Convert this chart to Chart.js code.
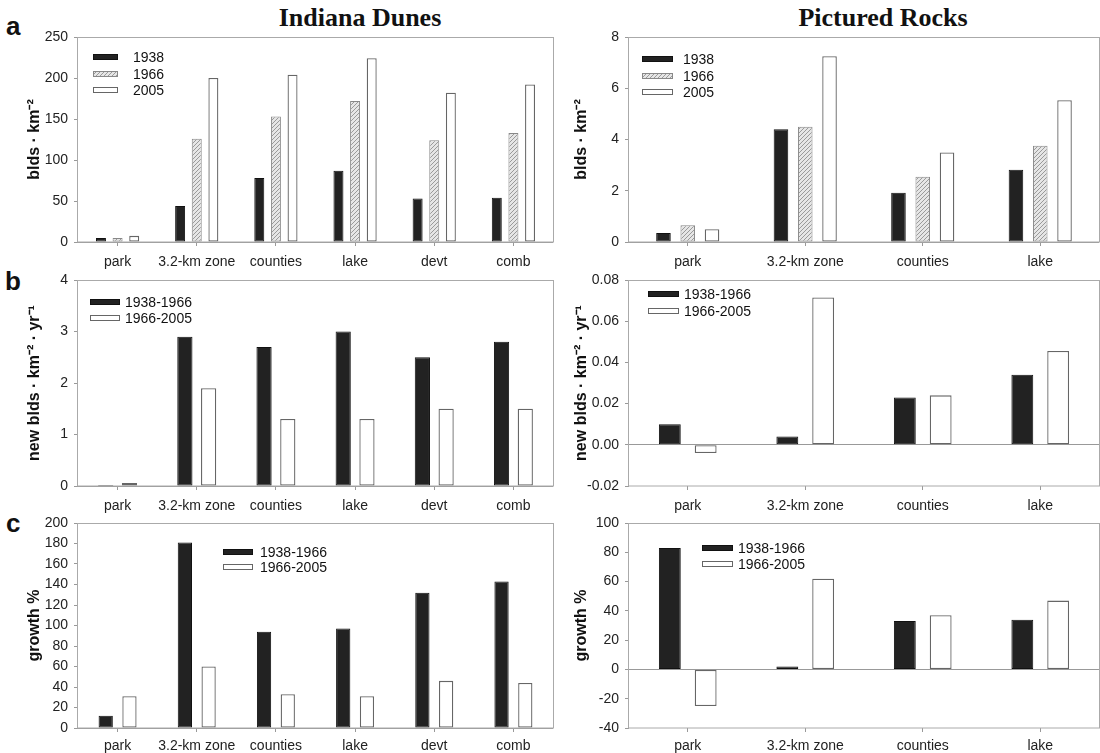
<!DOCTYPE html>
<html>
<head>
<meta charset="utf-8">
<script src="https://cdn.jsdelivr.net/npm/chart.js@4.4.0/dist/chart.umd.min.js"></script>
<style>
    body { margin: 0; width: 1100px; height: 753px; overflow: hidden; position: relative; background: #fff; }
    canvas { position: absolute; }
    .title { position: absolute; width: 240px; text-align: center; font: bold 26px/26px "Liberation Serif", "Times New Roman", serif; color: #111; }
    .letter { position: absolute; font: bold 26px/26px "Liberation Sans", Arial, sans-serif; color: #111; }
</style>
</head>
<body>
<div class="title" style="left:240px; top:5px;">Indiana Dunes</div>
<div class="title" style="left:763px; top:5px;">Pictured Rocks</div>
<div class="letter" style="left:6px; top:13px;">a</div>
<div class="letter" style="left:5px; top:268px;">b</div>
<div class="letter" style="left:6px; top:510px;">c</div>

<script>
// Catégories et séries
const idCats = ['park', '3.2-km zone', 'counties', 'lake', 'devt', 'comb'];
const prCats = ['park', '3.2-km zone', 'counties', 'lake'];
const years = ['1938', '1966', '2005'];
const periods = ['1938-1966', '1966-2005'];

// a : densité de bâtiments
const idDensity1938 = [5, 44, 78, 87, 53, 54];
const idDensity1966 = [5, 126, 153, 172, 124, 133];
const idDensity2005 = [7.5, 200, 204, 224, 182, 192];
const prDensity1938 = [0.35, 4.4, 1.92, 2.82];
const prDensity1966 = [0.65, 4.5, 2.55, 3.76];
const prDensity2005 = [0.5, 7.25, 3.49, 5.53];

// b : nouveaux bâtiments par an
const idRate1 = [0.02, 2.9, 2.7, 3.0, 2.5, 2.8];
const idRate2 = [0.06, 1.9, 1.3, 1.3, 1.5, 1.5];
const prRate1 = [0.01, 0.004, 0.023, 0.034];
const prRate2 = [-0.004, 0.0715, 0.024, 0.0455];

// c : croissance %
const idGrowth1 = [12, 181, 94, 97, 132, 143];
const idGrowth2 = [31, 60, 33, 31, 46, 44];
const prGrowth1 = [83, 2, 33, 34];
const prGrowth2 = [-25, 62, 37, 47];

// Graduations
const idDensityTicks = [0, 50, 100, 150, 200, 250];
const prDensityTicks = [0, 2, 4, 6, 8];
const idRateTicks = [0, 1, 2, 3, 4];
const prRateTicks = [-0.02, 0, 0.02, 0.04, 0.06, 0.08];
const idGrowthTicks = [0, 20, 40, 60, 80, 100, 120, 140, 160, 180, 200];
const prGrowthTicks = [-40, -20, 0, 20, 40, 60, 80, 100];

const SANS = '"Liberation Sans", Arial, sans-serif';

function hatchPattern() {
    const c = document.createElement('canvas');
    c.width = 4; c.height = 4;
    const g = c.getContext('2d');
    g.fillStyle = '#e6e6e6';
    g.fillRect(0, 0, 4, 4);
    g.strokeStyle = '#9a9a9a';
    g.lineWidth = 1;
    g.beginPath();
    g.moveTo(0, 4); g.lineTo(4, 0);
    g.moveTo(-1, 1); g.lineTo(1, -1);
    g.moveTo(3, 5); g.lineTo(5, 3);
    g.stroke();
    return g.createPattern(c, 'repeat');
}
const HATCH = hatchPattern();

const STYLE_BLACK = { backgroundColor: '#222', borderColor: '#111', borderWidth: 1 };
const STYLE_HATCH = { backgroundColor: HATCH, borderColor: '#888', borderWidth: 1 };
const STYLE_WHITE = { backgroundColor: '#fff', borderColor: '#666', borderWidth: 1.3 };

// Cadre gris autour de la zone de tracé
const frame = {
    id: 'frame',
    beforeDatasetsDraw(chart) {
        const { ctx, chartArea: a } = chart;
        ctx.save();
        ctx.strokeStyle = '#aaa';
        ctx.lineWidth = 1;
        ctx.strokeRect(Math.round(a.left) - 0.5, Math.round(a.top) + 0.5,
            Math.round(a.width) + 1, Math.round(a.height) - 0.5);
        ctx.restore();
    }
};

// Légende placée librement dans la zone de tracé
const boxLegend = {
    id: 'boxLegend',
    afterDatasetsDraw(chart, args, o) {
        const ctx = chart.ctx;
        const ox = chart.canvas.offsetLeft;
        const oy = chart.canvas.offsetTop;
        ctx.save();
        ctx.font = '14px ' + SANS;
        ctx.textBaseline = 'middle';
        chart.data.datasets.forEach((ds, i) => {
            const x = o.x - ox;
            const y = Math.round(o.rows[i] - oy);
            ctx.fillStyle = ds.backgroundColor;
            ctx.fillRect(x, y - 3, o.w, 6);
            ctx.strokeStyle = ds.borderColor;
            ctx.lineWidth = 1;
            ctx.strokeRect(x + 0.5, y - 2.5, o.w - 1, 5);
            ctx.fillStyle = '#111';
            ctx.fillText(ds.label, o.tx - ox, y + 1);
        });
        ctx.restore();
    }
};

const LEFT = { left: 0, width: 556, padL: 21, axisW: 57, padR: 3 };
const RIGHT = { left: 556, width: 544, padL: 12, axisW: 61, padR: 1 };
const ROWS = {
    a: { top: 0, height: 270, padTop: 37, axisH: 28, labelPad: 8 },
    b: { top: 262, height: 252, padTop: 18, axisH: 28, labelPad: 8 },
    c: { top: 505, height: 248, padTop: 18, axisH: 25, labelPad: 6 }
};

function renderBarChart(col, row, labels, datasets, ticks, yTitle, legend, pct, fmt) {
    const canvas = document.createElement('canvas');
    canvas.width = col.width;
    canvas.height = row.height;
    canvas.style.left = col.left + 'px';
    canvas.style.top = row.top + 'px';
    document.body.appendChild(canvas);

    return new Chart(canvas, {
        type: 'bar',
        data: {
            labels: labels,
            datasets: datasets.map(d => Object.assign({
                label: d.label,
                data: d.data,
                borderSkipped: false,
                categoryPercentage: pct[0],
                barPercentage: pct[1]
            }, d.style))
        },
        options: {
            responsive: false,
            animation: false,
            events: [],
            layout: { padding: { left: col.padL, right: col.padR, top: row.padTop, bottom: 0 } },
            plugins: {
                legend: { display: false },
                tooltip: { enabled: false },
                boxLegend: legend
            },
            scales: {
                x: {
                    afterFit: s => { s.height = row.axisH; },
                    border: { display: false },
                    grid: { offset: false, drawOnChartArea: false, tickLength: 4, tickColor: '#999' },
                    ticks: { color: '#222', padding: row.labelPad, maxRotation: 0, autoSkip: false, font: { family: SANS, size: 14 } }
                },
                y: {
                    min: ticks[0],
                    max: ticks[ticks.length - 1],
                    afterFit: s => { s.width = col.axisW; },
                    afterBuildTicks: s => { s.ticks = ticks.map(v => ({ value: v })); },
                    border: { display: false },
                    grid: {
                        drawOnChartArea: true,
                        tickLength: 4,
                        tickColor: '#999',
                        color: c => (c.tick && Math.abs(c.tick.value) < 1e-9 ? '#999' : 'rgba(0,0,0,0)')
                    },
                    ticks: {
                        color: '#222',
                        padding: 6,
                        font: { family: SANS, size: 14 },
                        callback: v => (fmt ? fmt(v) : v)
                    },
                    title: {
                        display: true,
                        text: yTitle,
                        color: '#111',
                        padding: { top: 4, bottom: 4 },
                        font: { family: SANS, size: 16, weight: 'bold' }
                    }
                }
            }
        },
        plugins: [frame, boxLegend]
    });
}

const densityTitle = 'blds · km⁻²';
const rateTitle = 'new blds · km⁻² · yr⁻¹';
const growthTitle = 'growth %';

// Rangée a
renderBarChart(LEFT, ROWS.a, idCats, [
    { label: years[0], data: idDensity1938, style: STYLE_BLACK },
    { label: years[1], data: idDensity1966, style: STYLE_HATCH },
    { label: years[2], data: idDensity2005, style: STYLE_WHITE }
], idDensityTicks, densityTitle, { x: 93, w: 25, tx: 133, rows: [57, 73.5, 90] }, [0.63, 0.6]);

renderBarChart(RIGHT, ROWS.a, prCats, [
    { label: years[0], data: prDensity1938, style: STYLE_BLACK },
    { label: years[1], data: prDensity1966, style: STYLE_HATCH },
    { label: years[2], data: prDensity2005, style: STYLE_WHITE }
], prDensityTicks, densityTitle, { x: 642, w: 31, tx: 683, rows: [59, 75.5, 92] }, [0.62, 0.6]);

// Rangée b
renderBarChart(LEFT, ROWS.b, idCats, [
    { label: periods[0], data: idRate1, style: STYLE_BLACK },
    { label: periods[1], data: idRate2, style: STYLE_WHITE }
], idRateTicks, rateTitle, { x: 90, w: 30, tx: 125, rows: [302, 318] }, [0.6, 0.64]);

renderBarChart(RIGHT, ROWS.b, prCats, [
    { label: periods[0], data: prRate1, style: STYLE_BLACK },
    { label: periods[1], data: prRate2, style: STYLE_WHITE }
], prRateTicks, rateTitle, { x: 648, w: 31, tx: 684, rows: [294, 311] }, [0.61, 0.61], v => v.toFixed(2));

// Rangée c
renderBarChart(LEFT, ROWS.c, idCats, [
    { label: periods[0], data: idGrowth1, style: STYLE_BLACK },
    { label: periods[1], data: idGrowth2, style: STYLE_WHITE }
], idGrowthTicks, growthTitle, { x: 223, w: 30, tx: 260, rows: [552, 567] }, [0.6, 0.6]);

renderBarChart(RIGHT, ROWS.c, prCats, [
    { label: periods[0], data: prGrowth1, style: STYLE_BLACK },
    { label: periods[1], data: prGrowth2, style: STYLE_WHITE }
], prGrowthTicks, growthTitle, { x: 702, w: 31, tx: 738, rows: [548, 564] }, [0.61, 0.61]);
</script>
</body>
</html>
